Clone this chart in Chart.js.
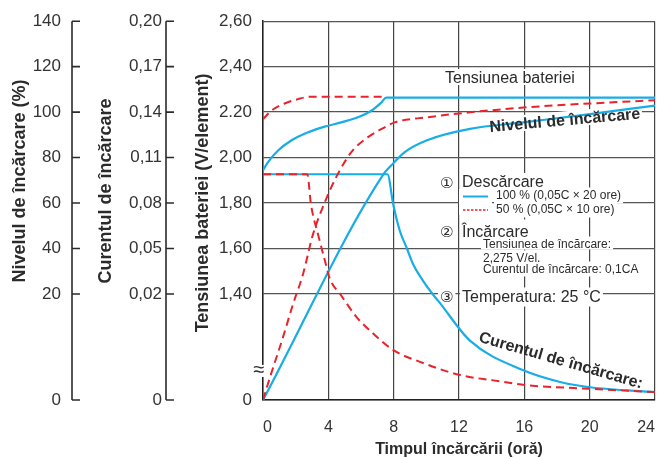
<!DOCTYPE html>
<html lang="ro">
<head>
<meta charset="utf-8">
<title>Caracteristici de încărcare</title>
<script src="https://cdn.jsdelivr.net/npm/chart.js@4.4.1/dist/chart.umd.min.js"></script>
<style>
  html, body { margin: 0; padding: 0; background: #fff; }
  #wrap { width: 659px; height: 458px; }
</style>
</head>
<body>
<div id="wrap"><canvas id="chart" width="659" height="458"></canvas></div>
<script>
// Axis ticks
const hourTicks = [0, 4, 8, 12, 16, 20, 24];
const levelTicks = [0, 20, 40, 60, 80, 100, 120, 140];
const currentTicks = [0, 0.02, 0.05, 0.08, 0.11, 0.14, 0.17, 0.20];
const currentLabels = ["0", "0,02", "0,05", "0,08", "0,11", "0,14", "0,17", "0,20"];
const voltTicks = [0, 1.40, 1.60, 1.80, 2.00, 2.20, 2.40, 2.60];
const voltLabels = ["0", "1,40", "1,60", "1,80", "2,00", "2.20", "2,40", "2,60"];

// Tensiunea bateriei (V/element)
const voltFullHours = [0, 0.31, 0.92, 1.73, 2.76, 3.78, 4.79, 5.82, 6.63, 7.24, 7.55, 24];
const voltFull = [1.944, 1.980, 2.031, 2.075, 2.111, 2.136, 2.155, 2.177, 2.206, 2.242, 2.264, 2.264];
const voltHalfHours = [0, 0.51, 1.33, 2.14, 2.9, 7.55];
const voltHalf = [2.169, 2.206, 2.238, 2.257, 2.268, 2.268];

// Curentul de încărcare (CA)
const currFullHours = [0, 7.62, 7.98, 8.39, 8.80, 9.20, 9.81, 10.43, 10.73, 12.67, 15.94, 18.19, 20.02, 22.3, 24];
const currFull = [0.099, 0.099, 0.0787, 0.0612, 0.0503, 0.0394, 0.0285, 0.0198, 0.0187, 0.0112, 0.0056, 0.0034, 0.0024, 0.0018, 0.0015];
const currHalfHours = [0, 2.71, 2.94, 3.37, 3.80, 4.10, 4.72, 5.74, 6.76, 7.98, 9.61, 12.06, 14.1, 16.15, 20.1, 24];
const currHalf = [0.099, 0.099, 0.0789, 0.0593, 0.0416, 0.0298, 0.020, 0.0156, 0.0125, 0.0094, 0.0072, 0.0047, 0.0037, 0.0028, 0.0021, 0.0015];

// Nivelul de încărcare (%)
const levelFullHours = [0, 7.35, 7.86, 8.68, 10.04, 12.67, 15.94, 20.02, 24];
const levelFull = [0, 72.4, 76.6, 82.4, 87.6, 92.6, 95.5, 99.1, 102.9];
const levelHalfHours = [0, 0.43, 1.22, 1.84, 2.45, 3.06, 3.8, 4.49, 5.41, 6.43, 7.45, 8.06, 10.04, 12.67, 15.94, 20.02, 24];
const levelHalf = [0, 4.3, 11.8, 18.1, 28.7, 46.2, 60.6, 71.5, 82.4, 89.0, 93.3, 95.5, 97.7, 99.9, 102.0, 103.8, 105.2];

const BLUE = "#18ade6";
const RED = "#e8232b";
const INK = "#2b2b2b";
const FONT = '"Liberation Sans", Arial, Helvetica, sans-serif';
const CIRCLED = '"DejaVu Sans", "Noto Sans CJK JP", sans-serif';

// The three y axes are broken: 0 .. first label takes a fixed share of the height
const BREAK_SHARE = 0.28;
const breakAt = { yLevel: 20, yCurrent: 0.02, yVolt: 1.40 };

class BrokenScale extends Chart.LinearScale {
  getPixelForValue(value) {
    if (value === null || value === undefined || isNaN(value)) return NaN;
    const b = breakAt[this.id];
    const d = value <= b
      ? value / b * BREAK_SHARE
      : BREAK_SHARE + (value - b) / (this.max - b) * (1 - BREAK_SHARE);
    return this.getPixelForDecimal(d);
  }
  getValueForPixel(pixel) {
    const b = breakAt[this.id];
    const d = this.getDecimalForPixel(pixel);
    return d <= BREAK_SHARE
      ? d / BREAK_SHARE * b
      : b + (d - BREAK_SHARE) / (1 - BREAK_SHARE) * (this.max - b);
  }
}
BrokenScale.id = "broken";
BrokenScale.defaults = {};
Chart.register(BrokenScale);

function pts(xs, ys) {
  return xs.map((x, i) => ({ x: x, y: ys[i] }));
}

// Texts inside the plot
const notes = [
  { text: "Tensiunea bateriei", x: 445, y: 83, font: "16px " + FONT, box: true },
  { text: "Nivelul de încărcare", x: 490, y: 132, font: "bold 16px " + FONT, angle: -5.1, box: true },
  { text: "Curentul de încărcare:", x: 478, y: 341.5, font: "bold 16px " + FONT, angle: 16.1 },
  { text: "①", x: 440, y: 187.5, font: "15px " + CIRCLED, box: true },
  { text: "Descărcare", x: 462, y: 187, font: "16px " + FONT, box: true },
  { text: "100 % (0,05C × 20 ore)", x: 496, y: 198.5, font: "12px " + FONT, box: true },
  { text: "50 % (0,05C × 10 ore)", x: 496, y: 212.5, font: "12px " + FONT, box: true },
  { text: "②", x: 440, y: 237, font: "15px " + CIRCLED, box: true },
  { text: "Încărcare", x: 462, y: 236.5, font: "16px " + FONT, box: true },
  { text: "Tensiunea de încărcare:", x: 483, y: 247.5, font: "12px " + FONT, box: true },
  { text: "2,275 V/el.", x: 483, y: 261.5, font: "12px " + FONT, box: true },
  { text: "Curentul de încărcare: 0,1CA", x: 483, y: 272.5, font: "12px " + FONT, box: true },
  { text: "③", x: 440, y: 302, font: "15px " + CIRCLED, box: true },
  { text: "Temperatura: 25 °C", x: 462, y: 301.5, font: "16px " + FONT, box: true }
];

const samples = [
  { x1: 463, x2: 488, y: 196.5, color: BLUE, dash: [], width: 2 },
  { x1: 463, x2: 488, y: 210, color: RED, dash: [2.5, 1.5], width: 1.5 }
];

const yTitles = [
  { text: "Nivelul de încărcare (%)", x: 20, y: 181 },
  { text: "Curentul de încărcare", x: 106, y: 191 },
  { text: "Tensiunea bateriei (V/element)", x: 203, y: 203 }
];

function setupNote(ctx, n) {
  ctx.translate(n.x, n.y);
  if (n.angle) ctx.rotate(n.angle * Math.PI / 180);
  ctx.font = n.font;
  ctx.textAlign = "left";
  ctx.textBaseline = "alphabetic";
}

const notesPlugin = {
  id: "notes",
  beforeDatasetsDraw(chart) {
    const ctx = chart.ctx;
    notes.filter(n => n.box).forEach(n => {
      ctx.save();
      setupNote(ctx, n);
      const m = ctx.measureText(n.text);
      ctx.fillStyle = "#fff";
      ctx.fillRect(-2, -m.actualBoundingBoxAscent - 2, m.width + 4,
        m.actualBoundingBoxAscent + m.actualBoundingBoxDescent + 4);
      ctx.restore();
    });
    ctx.save();
    ctx.fillStyle = "#fff";
    ctx.fillRect(459, 189, 33, 26);
    ctx.restore();
  },
  afterDatasetsDraw(chart) {
    const ctx = chart.ctx;
    notes.forEach(n => {
      ctx.save();
      setupNote(ctx, n);
      ctx.fillStyle = INK;
      ctx.fillText(n.text, 0, 0);
      ctx.restore();
    });
    samples.forEach(s => {
      ctx.save();
      ctx.strokeStyle = s.color;
      ctx.lineWidth = s.width;
      ctx.setLineDash(s.dash);
      ctx.beginPath();
      ctx.moveTo(s.x1, s.y);
      ctx.lineTo(s.x2, s.y);
      ctx.stroke();
      ctx.restore();
    });
  },
  afterDraw(chart) {
    const ctx = chart.ctx;
    // bracket axes for level and current
    ["yLevel", "yCurrent"].forEach(id => {
      const s = chart.scales[id];
      const x = s.right;
      ctx.save();
      ctx.strokeStyle = INK;
      ctx.lineWidth = 1.6;
      ctx.beginPath();
      ctx.moveTo(x, s.top);
      ctx.lineTo(x, s.bottom);
      s.ticks.forEach(t => {
        const y = s.getPixelForValue(t.value);
        ctx.moveTo(x, y);
        ctx.lineTo(x + 8, y);
      });
      ctx.stroke();
      ctx.restore();
    });
    // axis titles
    yTitles.forEach(t => {
      ctx.save();
      ctx.translate(t.x, t.y);
      ctx.rotate(-Math.PI / 2);
      ctx.font = "bold 18px " + FONT;
      ctx.fillStyle = INK;
      ctx.textAlign = "center";
      ctx.textBaseline = "middle";
      ctx.fillText(t.text, 0, 0);
      ctx.restore();
    });
    // break mark on the voltage axis
    const v = chart.scales.yVolt;
    const by = v.getPixelForValue(1.40) + 77;
    ctx.save();
    ctx.fillStyle = "#fff";
    ctx.fillRect(v.right - 7, by - 6, 14, 12);
    ctx.font = "20px " + FONT;
    ctx.fillStyle = INK;
    ctx.textAlign = "center";
    ctx.textBaseline = "middle";
    ctx.fillText("≈", v.right - 4, by);
    ctx.restore();
  }
};

function tickFont(size) {
  return { family: FONT, size: size };
}

new Chart(document.getElementById("chart"), {
  type: "line",
  data: {
    datasets: [
      { label: "Tensiune 50 %", data: pts(voltHalfHours, voltHalf), yAxisID: "yVolt",
        borderColor: RED, borderWidth: 2, borderDash: [8, 5] },
      { label: "Curent 50 %", data: pts(currHalfHours, currHalf), yAxisID: "yCurrent",
        borderColor: RED, borderWidth: 2, borderDash: [8, 5] },
      { label: "Nivel 50 %", data: pts(levelHalfHours, levelHalf), yAxisID: "yLevel",
        borderColor: RED, borderWidth: 2, borderDash: [8, 5] },
      { label: "Tensiune 100 %", data: pts(voltFullHours, voltFull), yAxisID: "yVolt",
        borderColor: BLUE, borderWidth: 2.2 },
      { label: "Curent 100 %", data: pts(currFullHours, currFull), yAxisID: "yCurrent",
        borderColor: BLUE, borderWidth: 2.2 },
      { label: "Nivel 100 %", data: pts(levelFullHours, levelFull), yAxisID: "yLevel",
        borderColor: BLUE, borderWidth: 2.2 }
    ]
  },
  options: {
    responsive: false,
    animation: false,
    events: [],
    layout: { padding: { left: 0, top: 18, right: 4, bottom: 0 } },
    elements: {
      point: { radius: 0 },
      line: { cubicInterpolationMode: "monotone", fill: false }
    },
    plugins: {
      legend: { display: false },
      tooltip: { enabled: false }
    },
    scales: {
      x: {
        type: "linear",
        min: 0,
        max: 24,
        afterBuildTicks: s => { s.ticks = hourTicks.map(v => ({ value: v })); },
        afterFit: s => { s.height = 58; s.paddingLeft = 0; s.paddingRight = 0; },
        ticks: { font: tickFont(16), color: "#333", padding: 18, align: "inner" },
        grid: { color: "#444", lineWidth: 1.2, drawTicks: false },
        border: { color: "#222", width: 1.5 },
        title: {
          display: true,
          text: "Timpul încărcării (oră)",
          font: { family: FONT, size: 16, weight: "bold", lineHeight: 1 },
          color: INK,
          padding: 0
        }
      },
      yVolt: {
        type: "broken",
        position: "left",
        weight: 0,
        min: 0,
        max: 2.60,
        afterBuildTicks: s => { s.ticks = voltTicks.map(v => ({ value: v })); },
        afterFit: s => { s.width = 97; },
        ticks: { font: tickFont(17), color: "#333", padding: 11,
          callback: (v, i) => voltLabels[i] },
        grid: { color: "#555", lineWidth: 1.3, drawTicks: false },
        border: { color: "#222", width: 1.5 }
      },
      yCurrent: {
        type: "broken",
        position: "left",
        weight: 1,
        min: 0,
        max: 0.20,
        afterBuildTicks: s => { s.ticks = currentTicks.map(v => ({ value: v })); },
        afterFit: s => { s.width = 94; },
        ticks: { font: tickFont(17), color: "#333", padding: 4,
          callback: (v, i) => currentLabels[i] },
        grid: { display: false, drawTicks: false },
        border: { display: false }
      },
      yLevel: {
        type: "broken",
        position: "left",
        weight: 2,
        min: 0,
        max: 140,
        afterBuildTicks: s => { s.ticks = levelTicks.map(v => ({ value: v })); },
        afterFit: s => { s.width = 72; },
        ticks: { font: tickFont(17), color: "#333", padding: 11,
          callback: v => String(v) },
        grid: { display: false, drawTicks: false },
        border: { display: false }
      }
    }
  },
  plugins: [notesPlugin]
});
</script>
</body>
</html>
